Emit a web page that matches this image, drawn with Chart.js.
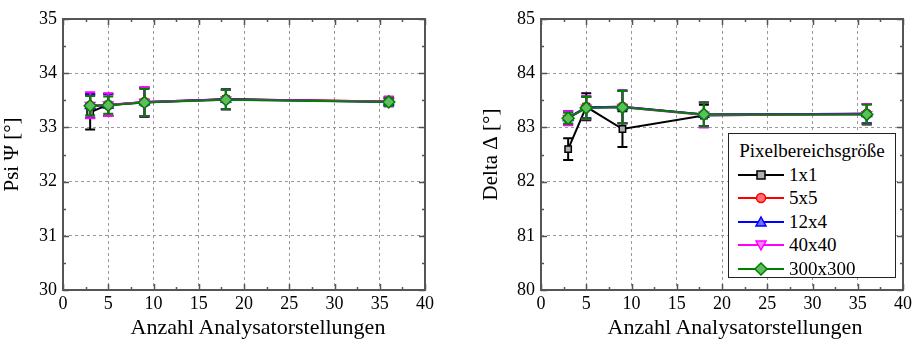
<!DOCTYPE html>
<html lang="de">
<head>
<meta charset="UTF-8">
<title>Psi und Delta über Anzahl Analysatorstellungen</title>
<script src="https://cdn.jsdelivr.net/npm/chart.js"></script>
<style>
    body { margin: 0; background: #fff; }
    #wrap { position: relative; width: 916px; height: 343px; font-family: "Liberation Serif", "Times New Roman", serif; }
    #links, #rechts { position: absolute; top: 0; }
    #links { left: 0; }
    #rechts { left: 458px; }
    .xtitel {
        position: absolute; top: 314px; width: 300px; margin-left: -150px; text-align: center;
        font-family: "Liberation Serif", serif; font-size: 22px; line-height: 26px; color: #000;
    }
    #legende {
        position: absolute; left: 728px; top: 133px; width: 166px; height: 143px;
        border: 1.5px solid #222; background: #fff; color: #000;
    }
    #legende .titel { font-family: "Liberation Serif", serif; font-size: 19px; text-align: center; margin-top: 5px; height: 24px; line-height: 24px; }
    #legende .zeile { display: flex; align-items: center; height: 23.5px; padding-left: 9px; font-family: "Liberation Serif", serif; font-size: 19px; }
    #legende svg { margin-right: 5px; }
</style>
</head>
<body>
<div id="wrap">
    <canvas id="links" width="458" height="343"></canvas>
    <canvas id="rechts" width="458" height="343"></canvas>
    <div class="xtitel" style="left: 258px;">Anzahl Analysatorstellungen</div>
    <div class="xtitel" style="left: 735px;">Anzahl Analysatorstellungen</div>
    <div id="legende"><div class="titel">Pixelbereichsgröße</div></div>
</div>

<script>
    const anzahl = [3, 5, 9, 18, 36];
    const serien = ["1x1", "5x5", "12x4", "40x40", "300x300"];

    const psi1x1     = [33.28, 33.42, 33.46, 33.52, 33.48];
    const psi5x5     = [33.40, 33.41, 33.47, 33.52, 33.48];
    const psi12x4    = [33.40, 33.41, 33.47, 33.52, 33.47];
    const psi40x40   = [33.41, 33.42, 33.47, 33.51, 33.48];
    const psi300x300 = [33.40, 33.41, 33.46, 33.51, 33.47];

    const psiErr1x1     = [0.32, 0.20, 0.27, 0.18, 0.08];
    const psiErr5x5     = [0.22, 0.20, 0.26, 0.18, 0.08];
    const psiErr12x4    = [0.22, 0.20, 0.26, 0.18, 0.08];
    const psiErr40x40   = [0.24, 0.21, 0.27, 0.18, 0.09];
    const psiErr300x300 = [0.18, 0.16, 0.25, 0.18, 0.07];

    const delta1x1     = [82.60, 83.38, 82.97, 83.22, 83.25];
    const delta5x5     = [83.17, 83.37, 83.38, 83.24, 83.25];
    const delta12x4    = [83.18, 83.37, 83.38, 83.24, 83.25];
    const delta40x40   = [83.17, 83.36, 83.37, 83.23, 83.24];
    const delta300x300 = [83.17, 83.36, 83.37, 83.24, 83.24];

    const deltaErr1x1     = [0.20, 0.25, 0.33, 0.20, 0.18];
    const deltaErr5x5     = [0.12, 0.20, 0.30, 0.22, 0.18];
    const deltaErr12x4    = [0.12, 0.20, 0.30, 0.22, 0.18];
    const deltaErr40x40   = [0.13, 0.21, 0.30, 0.23, 0.19];
    const deltaErr300x300 = [0.10, 0.20, 0.30, 0.22, 0.18];

    // Achsen
    const xMin = 0, xMax = 40, xStep = 5;
    const psiMin = 30, psiMax = 35;
    const deltaMin = 80, deltaMax = 85;

    const schrift = "'Liberation Serif', 'Times New Roman', serif";

    const stil = [
        { farbe: "#000000", fuell: "#b0b0b0", punkt: "rect",     rot: 0,   r: 4.5 },
        { farbe: "#ff0000", fuell: "#ff7070", punkt: "circle",   rot: 0,   r: 4.5 },
        { farbe: "#0000ff", fuell: "#7070ff", punkt: "triangle", rot: 0,   r: 5.5 },
        { farbe: "#ff00ff", fuell: "#ff80ff", punkt: "triangle", rot: 180, r: 5.5 },
        { farbe: "#008000", fuell: "#5cbf5c", punkt: "rectRot",  rot: 0,   r: 6 }
    ];

    // Fehlerbalken je Datensatz, vor dessen Linie gezeichnet
    const fehlerbalken = {
        id: "fehlerbalken",
        beforeDatasetDraw(chart, args) {
            const ds = chart.data.datasets[args.index];
            const xs = chart.scales.x, ys = chart.scales.y;
            const ctx = chart.ctx;
            ctx.save();
            ctx.strokeStyle = ds.borderColor;
            ctx.lineWidth = 2;
            ds.data.forEach((p, j) => {
                const px = xs.getPixelForValue(p.x);
                const y1 = ys.getPixelForValue(p.y - ds.fehler[j]);
                const y2 = ys.getPixelForValue(p.y + ds.fehler[j]);
                ctx.beginPath();
                ctx.moveTo(px, y1); ctx.lineTo(px, y2);
                ctx.moveTo(px - 5, y1); ctx.lineTo(px + 5, y1);
                ctx.moveTo(px - 5, y2); ctx.lineTo(px + 5, y2);
                ctx.stroke();
            });
            ctx.restore();
        }
    };

    // Rahmen mit nach innen zeigenden Haupt- und Nebenstrichen
    const rahmen = {
        id: "rahmen",
        afterDraw(chart) {
            const { left, right, top, bottom } = chart.chartArea;
            const xs = chart.scales.x, ys = chart.scales.y;
            const ctx = chart.ctx;
            ctx.save();
            ctx.strokeStyle = "#555";
            ctx.lineWidth = 1.5;
            ctx.beginPath();
            for (let v = xs.min; v <= xs.max + 1e-9; v += xStep / 2) {
                const px = Math.round(xs.getPixelForValue(v)) + 0.5;
                const len = (Math.abs(v % xStep) < 1e-9) ? 6 : 3;
                ctx.moveTo(px, bottom); ctx.lineTo(px, bottom - len);
                ctx.moveTo(px, top); ctx.lineTo(px, top + len);
            }
            for (let v = ys.min; v <= ys.max + 1e-9; v += 0.5) {
                const py = Math.round(ys.getPixelForValue(v)) + 0.5;
                const len = (Math.abs(v % 1) < 1e-9) ? 6 : 3;
                ctx.moveTo(left, py); ctx.lineTo(left + len, py);
                ctx.moveTo(right, py); ctx.lineTo(right - len, py);
            }
            ctx.stroke();
            ctx.lineWidth = 2;
            ctx.strokeRect(left, top, right - left, bottom - top);
            ctx.restore();
        }
    };

    function gitterFarbe(c) {
        const s = c.scale;
        return (c.tick.value === s.min || c.tick.value === s.max) ? "rgba(0,0,0,0)" : "#9a9a9a";
    }

    function erstelleDiagramm(id, werte, fehler, yMin, yMax, yTitel, padLinks, yBreite, padRechts) {
        const datasets = serien.map((name, i) => ({
            label: name,
            data: anzahl.map((x, j) => ({ x: x, y: werte[i][j] })),
            fehler: fehler[i],
            borderColor: stil[i].farbe,
            backgroundColor: stil[i].fuell,
            pointBackgroundColor: stil[i].fuell,
            pointBorderColor: stil[i].farbe,
            pointBorderWidth: 1.5,
            pointStyle: stil[i].punkt,
            pointRotation: stil[i].rot,
            pointRadius: stil[i].r,
            borderWidth: 2,
            tension: 0,
            fill: false,
            order: serien.length - i
        }));

        return new Chart(document.getElementById(id), {
            type: "line",
            data: { datasets: datasets },
            options: {
                responsive: false,
                animation: false,
                devicePixelRatio: 1,
                layout: { padding: { top: 19, right: padRechts, left: padLinks, bottom: 0 } },
                plugins: { legend: { display: false }, tooltip: { enabled: false } },
                scales: {
                    x: {
                        type: "linear", min: xMin, max: xMax,
                        ticks: { stepSize: xStep, color: "#000", font: { family: schrift, size: 18 }, padding: 3, maxRotation: 0 },
                        grid: { color: gitterFarbe, lineWidth: 1, drawTicks: false },
                        border: { display: false, dash: [3, 3] },
                        afterFit(s) { s.height = 53; }
                    },
                    y: {
                        type: "linear", min: yMin, max: yMax,
                        ticks: { stepSize: 1, color: "#000", font: { family: schrift, size: 18 }, padding: 6 },
                        grid: { color: gitterFarbe, lineWidth: 1, drawTicks: false },
                        border: { display: false, dash: [3, 3] },
                        title: { display: true, text: yTitel, color: "#000",
                                 font: { family: schrift, size: 21 }, padding: { top: 0, bottom: 0 } },
                        afterFit(s) { s.width = yBreite; }
                    }
                }
            },
            plugins: [fehlerbalken, rahmen]
        });
    }

    erstelleDiagramm("links",
        [psi1x1, psi5x5, psi12x4, psi40x40, psi300x300],
        [psiErr1x1, psiErr5x5, psiErr12x4, psiErr40x40, psiErr300x300],
        psiMin, psiMax, "Psi Ψ [°]", 0, 63, 33);

    erstelleDiagramm("rechts",
        [delta1x1, delta5x5, delta12x4, delta40x40, delta300x300],
        [deltaErr1x1, deltaErr5x5, deltaErr12x4, deltaErr40x40, deltaErr300x300],
        deltaMin, deltaMax, "Delta Δ [°]", 21, 62, 13);

    // Legende
    const legende = document.getElementById("legende");
    serien.forEach((name, i) => {
        const s = stil[i];
        let marke = "";
        const cx = 23, cy = 7;
        if (s.punkt === "rect") marke = `<rect x="${cx-4}" y="${cy-4}" width="8" height="8" fill="${s.fuell}" stroke="${s.farbe}" stroke-width="1.5"/>`;
        else if (s.punkt === "circle") marke = `<circle cx="${cx}" cy="${cy}" r="4.5" fill="${s.fuell}" stroke="${s.farbe}" stroke-width="1.5"/>`;
        else if (s.punkt === "triangle" && s.rot === 0) marke = `<polygon points="${cx},${cy-5} ${cx+5},${cy+4} ${cx-5},${cy+4}" fill="${s.fuell}" stroke="${s.farbe}" stroke-width="1.5"/>`;
        else if (s.punkt === "triangle") marke = `<polygon points="${cx},${cy+5} ${cx+5},${cy-4} ${cx-5},${cy-4}" fill="${s.fuell}" stroke="${s.farbe}" stroke-width="1.5"/>`;
        else marke = `<polygon points="${cx},${cy-6} ${cx+6},${cy} ${cx},${cy+6} ${cx-6},${cy}" fill="${s.fuell}" stroke="${s.farbe}" stroke-width="1.5"/>`;
        const zeile = document.createElement("div");
        zeile.className = "zeile";
        zeile.innerHTML = `<svg width="46" height="14"><line x1="0" y1="7" x2="46" y2="7" stroke="${s.farbe}" stroke-width="2"/>${marke}</svg><span>${name}</span>`;
        legende.appendChild(zeile);
    });
</script>
</body>
</html>
